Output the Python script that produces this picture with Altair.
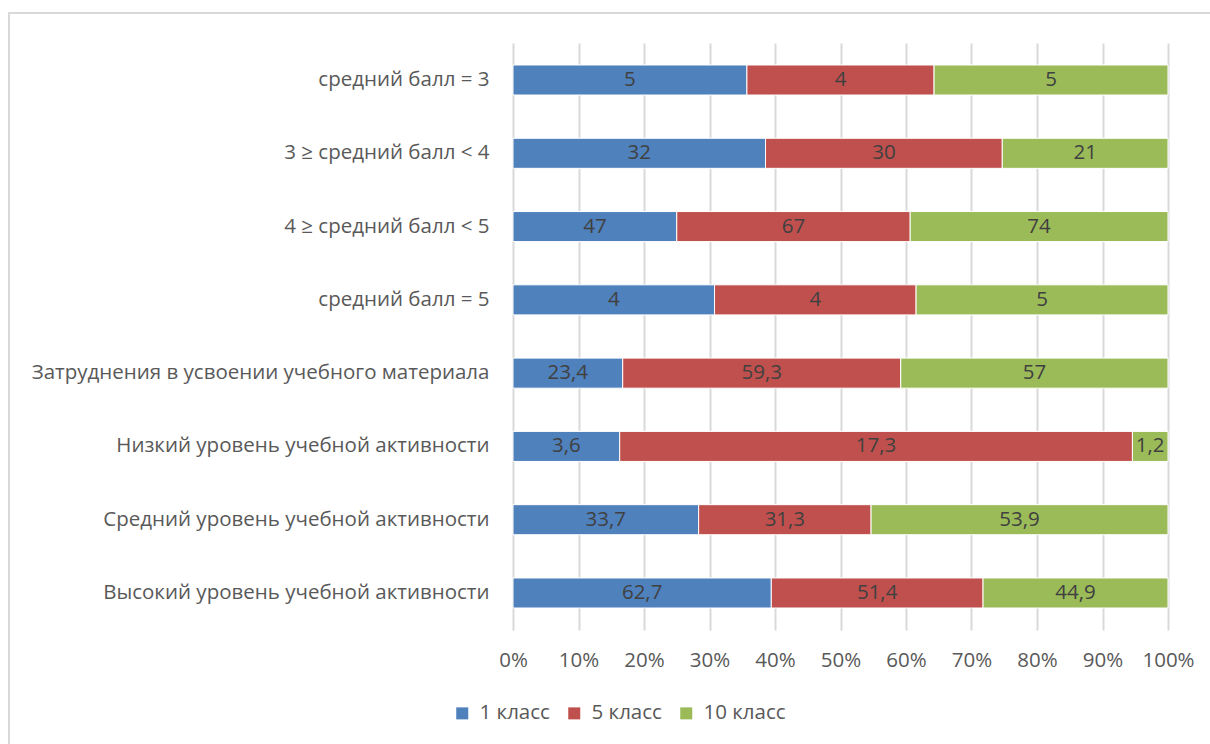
import altair as alt
import pandas as pd

categories = [
    "средний балл = 3",
    "3 ≥ средний балл < 4",
    "4 ≥ средний балл < 5",
    "средний балл = 5",
    "Затруднения в усвоении учебного материала",
    "Низкий уровень учебной активности",
    "Средний уровень учебной активности",
    "Высокий уровень учебной активности",
]
series = ["1 класс", "5 класс", "10 класс"]
class1 = [5, 32, 47, 4, 23.4, 3.6, 33.7, 62.7]
class5 = [4, 30, 67, 4, 59.3, 17.3, 31.3, 51.4]
class10 = [5, 21, 74, 5, 57, 1.2, 53.9, 44.9]
colors = ["#4F81BD", "#C0504D", "#9BBB59"]
x_ticks = [0, 0.1, 0.2, 0.3, 0.4, 0.5, 0.6, 0.7, 0.8, 0.9, 1.0]

rows = []
for i, cat in enumerate(categories):
    for k, (name, vals) in enumerate(zip(series, [class1, class5, class10])):
        rows.append({"cat": cat, "series": name, "order": k, "value": vals[i]})
df = pd.DataFrame(rows)

FONT = "Open Sans"
FS = 20.5
GREY = "#595959"

base = alt.Chart(df)

bars = base.mark_bar(stroke="white", strokeWidth=1).encode(
    y=alt.Y("cat:N", sort=categories, title=None,
            scale=alt.Scale(paddingInner=0.59, paddingOuter=0.3),
            axis=alt.Axis(labelFont=FONT, labelFontSize=FS, labelColor=GREY,
                          labelPadding=24, ticks=False, domain=False,
                          labelLimit=500)),
    x=alt.X("value:Q", stack="normalize", title=None,
            scale=alt.Scale(domain=[0, 1]),
            axis=alt.Axis(values=x_ticks, format=".0%", labelFont=FONT,
                          labelFontSize=FS, labelColor=GREY, labelPadding=20,
                          labelFlush=False, labelOverlap=False,
                          ticks=False, domain=False, grid=True,
                          gridColor="#d9d9d9", gridWidth=2)),
    color=alt.Color("series:N", sort=series,
                    scale=alt.Scale(domain=series, range=colors),
                    legend=alt.Legend(title=None, orient="none", direction="horizontal",
                                      legendX=-61, legendY=660, symbolType="square",
                                      symbolSize=144, symbolStrokeWidth=0,
                                      labelOffset=7,
                                      labelFont=FONT, labelFontSize=FS,
                                      labelColor=GREY, columnPadding=14,
                                      symbolOpacity=1)),
    order=alt.Order("order:Q"),
)

labels = base.transform_joinaggregate(
    total="sum(value)", groupby=["cat"]
).transform_window(
    cum="sum(value)", groupby=["cat"], sort=[alt.SortField("order")],
    frame=[None, 0]
).transform_calculate(
    mid="(datum.cum - datum.value / 2) / datum.total",
    label="replace(toString(datum.value), '.', ',')",
).mark_text(font=FONT, fontSize=FS, color="#404040", baseline="middle").encode(
    y=alt.Y("cat:N", sort=categories),
    x=alt.X("mid:Q"),
    text="label:N",
)

frame = base.mark_rect(fill=None, stroke="#d9d9d9", strokeWidth=2).encode(
    x=alt.value(-504), x2=alt.value(720), y=alt.value(-30), y2=alt.value(720)
)

chart = alt.layer(frame, bars, labels).properties(
    width=655, height=587,
    autosize=alt.AutoSizeParams(type="none"),
    padding={"left": 513, "top": 43, "right": 42, "bottom": 114},
).configure_view(stroke=None)

chart.save("out.html", embed_options={"renderer": "svg", "actions": False})
